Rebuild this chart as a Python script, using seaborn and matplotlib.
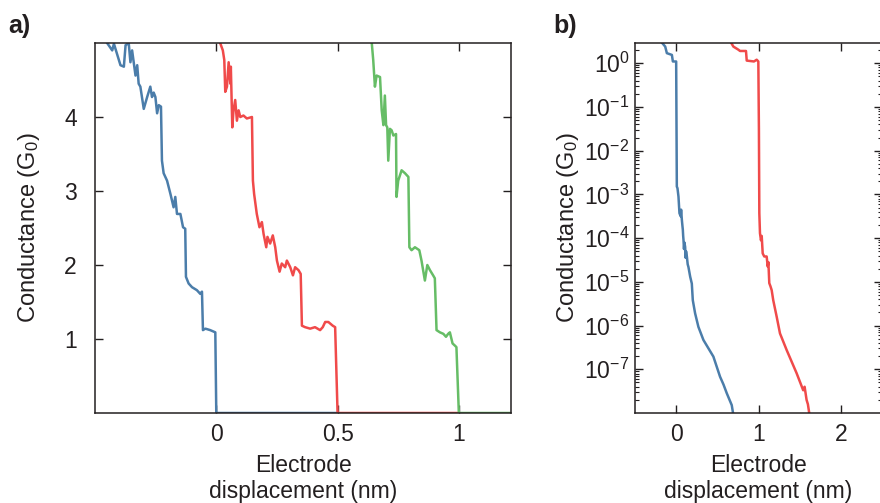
import numpy as np
import pandas as pd
import matplotlib
matplotlib.use("Agg")
import matplotlib.pyplot as plt
import seaborn as sns

# ---------------- data: panel a (linear) ----------------
blue_a_x = [-0.47, -0.450, -0.429, -0.422, -0.395, -0.381, -0.374, -0.361, -0.354, -0.347,
            -0.333, -0.326, -0.320, -0.313, -0.299, -0.285, -0.272, -0.265, -0.258, -0.251,
            -0.244, -0.237, -0.228, -0.224, -0.217, -0.203, -0.189, -0.176, -0.169, -0.162,
            -0.148, -0.137, -0.128, -0.125, -0.114, -0.100, -0.080, -0.066, -0.059, -0.055,
            -0.045, -0.025, -0.004, 0.0, 0.5]
blue_a_y = [5.10, 5.00, 4.90, 4.99, 4.70, 4.68, 4.97, 5.00, 4.74, 4.90,
            4.56, 4.70, 4.45, 4.41, 4.11, 4.27, 4.41, 4.27, 4.33, 4.27,
            4.05, 4.16, 4.14, 3.41, 3.24, 3.14, 2.96, 2.78, 2.92, 2.69,
            2.69, 2.51, 2.49, 1.84, 1.75, 1.70, 1.66, 1.61, 1.64, 1.12,
            1.14, 1.12, 1.09, 0.0, 0.0]

red_a_x = [0.010, 0.016, 0.027, 0.033, 0.037, 0.044, 0.051, 0.058, 0.060, 0.066,
           0.071, 0.078, 0.085, 0.092, 0.099, 0.112, 0.126, 0.147, 0.151, 0.156,
           0.167, 0.178, 0.188, 0.195, 0.206, 0.211, 0.222, 0.233, 0.243, 0.250,
           0.261, 0.270, 0.284, 0.291, 0.305, 0.316, 0.325, 0.339, 0.348, 0.353,
           0.366, 0.387, 0.407, 0.428, 0.439, 0.449, 0.462, 0.480, 0.490, 0.500, 1.0]
red_a_y = [5.10, 5.00, 4.90, 4.77, 4.34, 4.41, 4.74, 4.45, 4.68, 3.86,
           4.09, 4.23, 3.95, 4.09, 4.00, 4.02, 3.98, 4.00, 3.14, 2.96,
           2.69, 2.51, 2.58, 2.42, 2.24, 2.38, 2.29, 2.40, 2.24, 2.06,
           1.91, 2.02, 1.97, 2.06, 1.97, 1.86, 1.97, 1.93, 1.88, 1.18,
           1.16, 1.14, 1.16, 1.12, 1.16, 1.23, 1.23, 1.18, 1.16, 0.0, 0.0]

green_a_x = [0.636, 0.641, 0.647, 0.654, 0.661, 0.675, 0.682, 0.689, 0.695, 0.700,
             0.705, 0.709, 0.716, 0.723, 0.730, 0.741, 0.743, 0.750, 0.764, 0.778,
             0.792, 0.796, 0.805, 0.819, 0.837, 0.846, 0.860, 0.870, 0.881, 0.894,
             0.901, 0.908, 0.922, 0.936, 0.947, 0.956, 0.963, 0.974, 0.984, 0.990,
             1.000, 1.30]
green_a_y = [5.10, 5.00, 4.77, 4.41, 4.56, 4.54, 4.09, 3.89, 4.29, 3.89,
             3.86, 3.41, 3.84, 3.82, 3.75, 3.77, 2.92, 3.14, 3.28, 3.24,
             3.19, 2.24, 2.20, 2.24, 2.20, 2.06, 1.79, 2.00, 1.93, 1.86,
             1.82, 1.12, 1.09, 1.07, 1.03, 1.07, 1.09, 0.94, 0.91, 0.89,
             0.0, 0.0]

# ---------------- data: panel b (log) ----------------
blue_b_x = [-0.20, -0.173, -0.133, -0.113, -0.052, -0.040, 0.000, 0.008, 0.016, 0.028,
            0.040, 0.055, 0.060, 0.069, 0.075, 0.081, 0.085, 0.089, 0.095, 0.100,
            0.109, 0.115, 0.120, 0.130, 0.140, 0.149, 0.170, 0.190, 0.202, 0.230,
            0.270, 0.331, 0.452, 0.533, 0.575, 0.615, 0.675, 0.695]
blue_b_logy = [0.55, 0.47, 0.38, 0.23, 0.19, 0.04, 0.04, -2.82, -2.86, -3.05,
               -3.43, -3.50, -3.35, -3.58, -3.70, -3.81, -3.95, -4.04, -4.25, -4.10,
               -4.20, -4.45, -4.30, -4.42, -4.60, -4.66, -4.88, -5.04, -5.42, -5.72,
               -6.03, -6.33, -6.71, -7.17, -7.35, -7.55, -7.82, -8.05]

red_b_x = [0.640, 0.667, 0.695, 0.755, 0.776, 0.848, 0.857, 0.945, 0.978, 0.998,
           1.005, 1.010, 1.018, 1.030, 1.039, 1.051, 1.070, 1.099, 1.112, 1.120,
           1.131, 1.145, 1.160, 1.179, 1.221, 1.261, 1.342, 1.463, 1.543, 1.560,
           1.584, 1.600, 1.616, 1.625]
red_b_logy = [0.55, 0.47, 0.38, 0.31, 0.28, 0.28, 0.06, 0.04, 0.08, 0.04,
              -1.50, -3.43, -3.89, -4.05, -3.95, -4.35, -4.42, -4.42, -4.65, -4.55,
              -5.03, -5.10, -5.19, -5.42, -5.80, -6.18, -6.56, -7.09, -7.48, -7.40,
              -7.70, -7.80, -8.00, -8.10]

x_ticks_a = [0, 0.5, 1]
x_ticklabels_a = ["0", "0.5", "1"]
y_ticks_a = [1, 2, 3, 4]
x_ticks_b = [0, 1, 2]
y_ticks_b = [1e0, 1e-1, 1e-2, 1e-3, 1e-4, 1e-5, 1e-6, 1e-7]

# ---------------- styling ----------------
sns.set_style("ticks")
plt.rcParams["font.family"] = ["Liberation Sans", "DejaVu Sans"]
plt.rcParams["mathtext.fontset"] = "custom"
plt.rcParams["mathtext.rm"] = "Liberation Sans"
plt.rcParams["mathtext.it"] = "Liberation Sans:italic"
plt.rcParams["axes.unicode_minus"] = False

TXT = "#231f20"
BLUE = "#4b7daa"
RED = "#f04a4a"
GREEN = "#66bd66"
LW = 1.8
FS = 16.5

fig = plt.figure(figsize=(8.8, 5.03), dpi=100)
W, H = 880, 503
ax_a = fig.add_axes([95 / W, 1 - 413 / H, 416 / W, 370 / H])
ax_b = fig.add_axes([635 / W, 1 - 413 / H, 247 / W, 370 / H])

def line(ax, x, y, c):
    df = pd.DataFrame({"x": x, "y": y})
    sns.lineplot(data=df, x="x", y="y", ax=ax, sort=False, estimator=None,
                 color=c, lw=LW, legend=False)

line(ax_a, blue_a_x, blue_a_y, BLUE)
line(ax_a, red_a_x, red_a_y, RED)
line(ax_a, green_a_x, green_a_y, GREEN)

line(ax_b, blue_b_x, 10 ** np.array(blue_b_logy), BLUE)
line(ax_b, red_b_x, 10 ** np.array(red_b_logy), RED)

# panel a axes
ax_a.set_xlim(-0.5, 1.215)
ax_a.set_ylim(0, 5)
ax_a.set_xticks(x_ticks_a)
ax_a.set_xticklabels(x_ticklabels_a)
ax_a.set_yticks(y_ticks_a)

# panel b axes
ax_b.set_yscale("log")
ax_b.set_xlim(-0.5, 2.5)
ax_b.set_ylim(1.0e-8, 2.9)
ax_b.set_xticks(x_ticks_b)
ax_b.set_yticks(y_ticks_b)
ax_b.yaxis.set_minor_locator(matplotlib.ticker.LogLocator(base=10, subs=np.arange(2, 10), numticks=30))
ax_b.yaxis.set_minor_formatter(matplotlib.ticker.NullFormatter())

for ax in (ax_a, ax_b):
    for s in ax.spines.values():
        s.set_visible(True)
        s.set_color(TXT)
        s.set_linewidth(1.1)
    ax.tick_params(axis="both", which="major", direction="in", length=6, width=1.0,
                   color=TXT, labelcolor=TXT, labelsize=FS,
                   top=True, right=True, bottom=True, left=True)
    ax.tick_params(axis="both", which="minor", direction="in", length=3, width=0.8,
                   color=TXT, top=True, right=True, left=True)
    ax.tick_params(axis="x", which="major", pad=7)
    ax.set_xlabel("Electrode\ndisplacement (nm)", fontsize=FS, color=TXT,
                  linespacing=1.18)
    ax.set_ylabel("Conductance (G$_{\\mathregular{0}}$)", fontsize=FS + 0.5, color=TXT)
    ax.xaxis.set_label_coords(0.5, -0.11)

ax_a.tick_params(axis="y", which="major", pad=13)
ax_b.tick_params(axis="y", which="major", pad=4)
ax_a.yaxis.set_label_coords(-0.128, 0.5)
ax_b.yaxis.set_label_coords(-0.22, 0.5)

fig.text(8 / W, 1 - 33 / H, "a)", fontsize=18, fontweight="bold", color=TXT, va="baseline")
fig.text(553 / W, 1 - 33 / H, "b)", fontsize=18, fontweight="bold", color=TXT, va="baseline")

fig.savefig("out.png", dpi=100)
